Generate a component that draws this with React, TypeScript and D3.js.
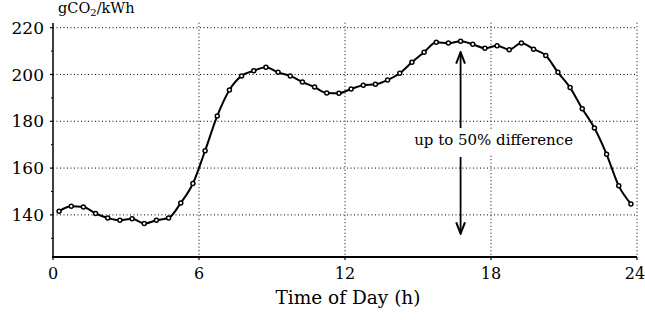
import React from 'react'
import * as d3 from 'd3'

// half-hourly averages, plotted at the middle of each half hour
const hours = d3.range(48).map(i => i * 0.5 + 0.25)
const intensity = [
  141.6, 143.7, 143.4, 140.6, 138.7, 137.7, 138.3, 136.3, 137.7, 138.7,
  145.1, 153.4, 167.4, 182.3, 193.4, 199.4, 201.6, 203.1, 200.9, 199.4,
  196.8, 194.6, 192.1, 192.0, 193.8, 195.4, 195.8, 197.6, 200.5, 205.2,
  209.5, 213.8, 213.4, 214.2, 212.9, 211.2, 212.3, 210.6, 213.5, 210.8,
  208.1, 200.9, 194.4, 185.4, 177.1, 165.9, 152.4, 144.7
]
const xTicks = [0, 6, 12, 18, 24]
const yTicks = [140, 160, 180, 200, 220]
const yMinor = [130, 150, 170, 190, 210]
const annotation = { hour: 16.75, top: 209.5, bottom: 132, label: 'up to 50% difference' }

const width = 645
const height = 320
const margin = { top: 23, right: 8, bottom: 63, left: 53 }
const font = '"DejaVu Serif", serif'

export default function App() {
  const innerW = width - margin.left - margin.right
  const innerH = height - margin.top - margin.bottom

  const x = d3.scaleLinear().domain([0, 24]).range([0, innerW])
  const y = d3.scaleLinear().domain([122, 222]).range([innerH, 0])

  const points = hours.map((h, i) => ({ h, v: intensity[i] }))
  const line = d3.line<{ h: number; v: number }>()
    .x(d => x(d.h))
    .y(d => y(d.v))
    .curve(d3.curveMonotoneX)

  const ax = x(annotation.hour)
  const labelY = y(172)

  return (
    <svg width={width} height={height} style={{ position: 'absolute', left: 0, top: 0, background: '#fff' }}>
      <defs>
        <marker id="arrow" viewBox="0 0 10 10" refX="9" refY="5" markerWidth="7" markerHeight="7" orient="auto">
          <path d="M0,1.5 L9,5 L0,8.5" fill="none" stroke="#000" strokeWidth="1.6" />
        </marker>
      </defs>
      <g transform={`translate(${margin.left},${margin.top})`}>
        {/* grid */}
        {yTicks.map(t => (
          <line key={'gy' + t} x1={0} x2={innerW} y1={y(t)} y2={y(t)}
            stroke="#000" strokeWidth={1} strokeDasharray="1,2.5" />
        ))}
        {xTicks.filter(t => t > 0).map(t => (
          <line key={'gx' + t} x1={x(t)} x2={x(t)} y1={y(220) - 5} y2={innerH}
            stroke="#000" strokeWidth={1} strokeDasharray="1,2.5" />
        ))}

        {/* axes */}
        <line x1={0} x2={0} y1={0} y2={innerH} stroke="#000" strokeWidth={1.5} />
        <line x1={-1} x2={innerW} y1={innerH} y2={innerH} stroke="#000" strokeWidth={2} />
        {yTicks.map(t => (
          <g key={'ty' + t}>
            <line x1={-3} x2={0} y1={y(t)} y2={y(t)} stroke="#000" strokeWidth={1.2} />
            <text x={-9} y={y(t)} dy="0.36em" textAnchor="end" fontFamily={font} fontSize={17}>{t}</text>
          </g>
        ))}
        {yMinor.map(t => (
          <line key={'my' + t} x1={-2} x2={0} y1={y(t)} y2={y(t)} stroke="#000" strokeWidth={1} />
        ))}
        {xTicks.map((t, i) => (
          <g key={'tx' + t}>
            <line x1={x(t)} x2={x(t)} y1={innerH} y2={innerH + 3} stroke="#000" strokeWidth={1.2} />
            <text x={x(t)} dx={i === xTicks.length - 1 ? -2 : 0} y={innerH + 22} textAnchor="middle"
              fontFamily={font} fontSize={16}>{t}</text>
          </g>
        ))}

        {/* series */}
        <path d={line(points) || ''} fill="none" stroke="#000" strokeWidth={2} />
        {points.map((p, i) => (
          <circle key={i} cx={x(p.h)} cy={y(p.v)} r={2} fill="#fff" stroke="#000" strokeWidth={1.5} />
        ))}

        {/* annotation */}
        <line x1={ax} x2={ax} y1={labelY - 12} y2={y(annotation.top)} stroke="#000" strokeWidth={1.8} markerEnd="url(#arrow)" />
        <line x1={ax} x2={ax} y1={labelY + 17} y2={y(annotation.bottom)} stroke="#000" strokeWidth={1.8} markerEnd="url(#arrow)" />
        <rect x={ax - 52} y={labelY - 11} width={170} height={26} fill="#fff" />
        <text x={ax + 33} y={labelY} dy="0.36em" textAnchor="middle" fontFamily={font} fontSize={15}>{annotation.label}</text>

        {/* axis titles */}
        <text x={5} y={-10} fontFamily={font} fontSize={14.5}>gCO<tspan fontSize={10} dy={3}>2</tspan><tspan dy={-3}>/kWh</tspan></text>
        <text x={innerW / 2 + 3} y={innerH + 47} textAnchor="middle" fontFamily={font} fontSize={18.5}>Time of Day (h)</text>
      </g>
    </svg>
  )
}
